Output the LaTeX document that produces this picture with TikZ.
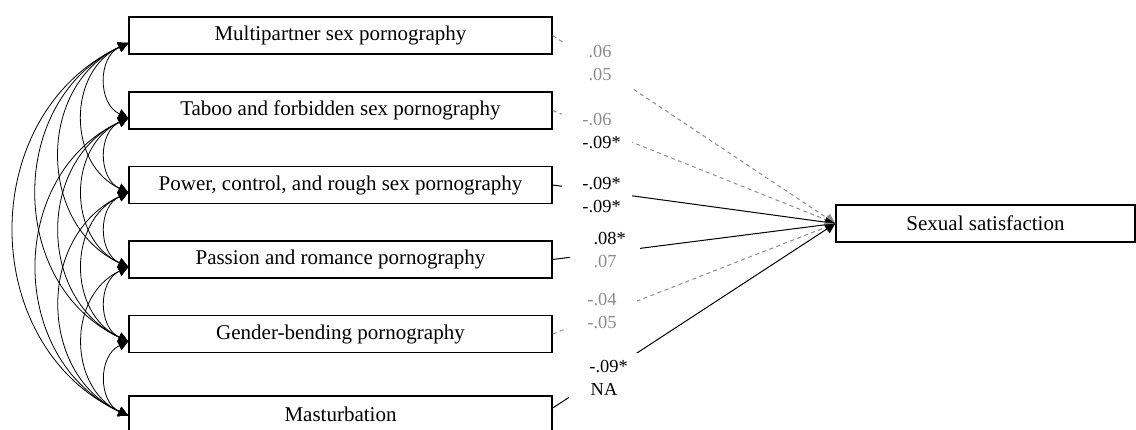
\documentclass[tikz,border=0pt]{standalone}
\usepackage{fontspec}
\setmainfont{Liberation Serif}
\usetikzlibrary{arrows.meta}
\definecolor{ns}{HTML}{8C8C8C}
\begin{document}
\begin{tikzpicture}[x=0.5pt,y=0.5pt,
  box/.style={draw, line width=0.7pt, minimum width=211.5pt, minimum height=18.5pt, inner sep=0pt, font=\fontsize{10.5}{12}\selectfont},
  cov/.style={line width=0.4pt, {Triangle[length=5pt,width=5pt]}-{Triangle[length=5pt,width=5pt]}, out=205, in=155, looseness=1.155},
  reg/.style={line width=0.5pt, -{Triangle[length=5pt,width=5pt]}},
  nsig/.style={reg, ns, dash pattern=on 2pt off 1.75pt},
  lab/.style={fill=white, minimum width=35pt, minimum height=25pt, inner sep=0pt, align=center, font=\fontsize{9.2}{11.5}\selectfont},
]
\path[use as bounding box] (0,0) rectangle (1136,-429);

\node[box] (b1) at (340.5,-35.5) {Multipartner sex pornography};
\node[box] (b2) at (340.5,-110.5) {Taboo and forbidden sex pornography};
\node[box] (b3) at (340.5,-185) {Power, control, and rough sex pornography};
\node[box] (b4) at (340.5,-259.5) {Passion and romance pornography};
\node[box] (b5) at (340.5,-334) {Gender-bending pornography};
\node[box] (b6) at (340.5,-414.5) {Masturbation};
\node[box, minimum width=149.5pt] (ss) at (985.5,-223.5) {Sexual satisfaction};

% covariance end points
\foreach \i in {1,...,5} \coordinate (t\i) at ([yshift=-3.75pt]b\i.west);
\coordinate (t6) at ([yshift=-0.6pt]b6.west);
\coordinate (r6) at ([yshift=3.25pt]b6.east);

\foreach \i/\j in {1/2,1/3,1/4,1/5,1/6,2/3,2/4,2/5,2/6,3/4,3/5,3/6,4/5,4/6,5/6}
  \draw[cov] (t\i) to (t\j);

% regression paths
\draw[nsig] (b1.east) -- (ss.west);
\draw[nsig] (b2.east) -- (ss.west);
\draw[reg] (b3.east) -- (ss.west);
\draw[reg] (b4.east) -- (ss.west);
\draw[nsig] (b5.east) -- (ss.west);
\draw[reg] (r6) -- (ss.west);

\node[lab] (l1) at (600,-63) {\textcolor{ns}{.06}\\\textcolor{ns}{.05}};
\node[lab] (l2) at (597,-131) {\textcolor{ns}{-.06}\\-.09\rlap{*}};
\node[lab] (l3) at (597,-195) {-.09\rlap{*}\\-.09\rlap{*}};
\node[lab] (l4) at (605,-250) {.08\rlap{*}\\\textcolor{ns}{.07}};
\node[lab] (l5) at (602,-311) {\textcolor{ns}{-.04}\\\textcolor{ns}{-.05}};
\node[lab] (l6) at (604,-378) {-.09\rlap{*}\\NA};
\end{tikzpicture}
\end{document}
